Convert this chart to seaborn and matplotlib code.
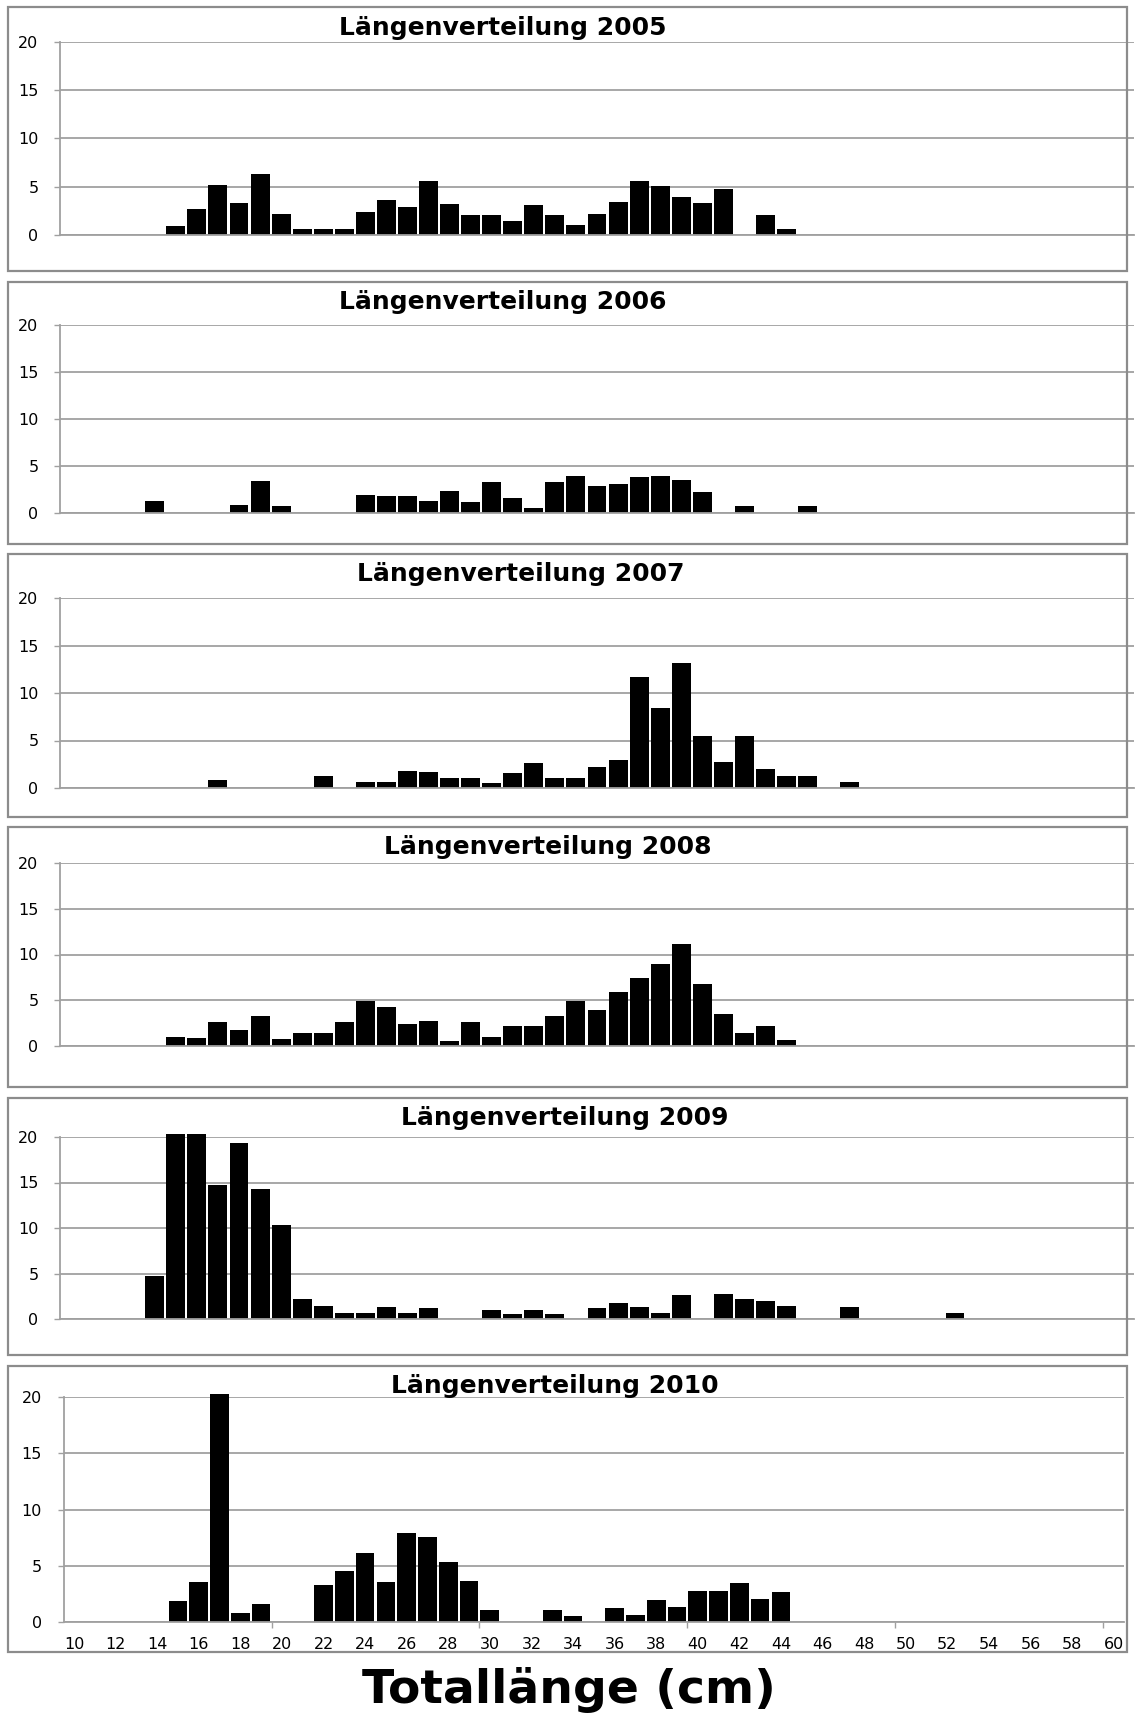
import matplotlib
matplotlib.use("Agg")
import matplotlib.pyplot as plt
import seaborn as sns
import pandas as pd
from matplotlib.patches import Rectangle

# === Daten: Anteil je Längenklasse (cm) ===
lengths = list(range(10, 61))
years = [2005, 2006, 2007, 2008, 2009, 2010]

counts_2005 = [0, 0, 0, 0, 0,
               0.96, 2.72, 5.2, 3.34, 6.33, 2.2, 0.65, 0.65, 0.65, 2.41,
               3.65, 2.93, 5.61, 3.24, 2.1, 2.1, 1.48, 3.13, 2.1, 1.07,
               2.2, 3.44, 5.61, 5.09, 3.96, 3.34, 4.78, 0, 2.1, 0.65,
               0, 0, 0, 0, 0, 0, 0, 0, 0, 0, 0, 0, 0, 0, 0, 0]
counts_2006 = [0, 0, 0, 0,
               1.24, 0, 0, 0, 0.82, 3.37, 0.71, 0, 0, 0, 1.88,
               1.78, 1.78, 1.24, 2.31, 1.14, 3.27, 1.56, 0.5, 3.27, 3.91,
               2.84, 3.05, 3.8, 3.91, 3.48, 2.2, 0, 0.71, 0, 0, 0.71,
               0, 0, 0, 0, 0, 0, 0, 0, 0, 0, 0, 0, 0, 0, 0]
counts_2007 = [0, 0, 0, 0, 0, 0, 0,
               0.88, 0, 0, 0, 0, 1.3, 0, 0.67, 0.67, 1.82, 1.72, 1.09,
               1.09, 0.56, 1.61, 2.67, 1.09, 1.09, 2.25, 2.98, 11.72, 8.46,
               13.19, 5.51, 2.77, 5.51, 2.04, 1.3, 1.3, 0, 0.67,
               0, 0, 0, 0, 0, 0, 0, 0, 0, 0, 0, 0, 0]
counts_2008 = [0, 0, 0, 0, 0,
               0.95, 0.84, 2.59, 1.71, 3.24, 0.73, 1.38, 1.38, 2.59, 4.88,
               4.23, 2.37, 2.7, 0.51, 2.59, 0.95, 2.15, 2.15, 3.24, 4.88,
               3.9, 5.87, 7.4, 8.93, 11.11, 6.74, 3.46, 1.38, 2.15, 0.62,
               0, 0, 0, 0, 0, 0, 0, 0, 0, 0, 0, 0, 0, 0, 0, 0]
counts_2009 = [0, 0, 0, 0,
               4.73, 20.3, 20.3, 14.75, 19.38, 14.31, 10.35, 2.2, 1.43, 0.66,
               0.66, 1.32, 0.66, 1.21, 0, 0, 0.99, 0.55, 0.99, 0.55, 0,
               1.21, 1.76, 1.32, 0.66, 2.64, 0, 2.75, 2.2, 1.98, 1.43,
               0, 0, 1.32, 0, 0, 0, 0, 0.66,
               0, 0, 0, 0, 0, 0, 0, 0]
counts_2010 = [0, 0, 0, 0, 0,
               1.84, 3.54, 20.3, 0.77, 1.58, 0, 0, 3.27, 4.52, 6.12,
               3.54, 7.9, 7.55, 5.32, 3.63, 1.04, 0, 0, 1.04, 0.51,
               0, 1.22, 0.59, 1.93, 1.31, 2.73, 2.73, 3.45, 2.02, 2.64,
               0, 0, 0, 0, 0, 0, 0, 0, 0, 0, 0, 0, 0, 0, 0, 0]
all_counts = [counts_2005, counts_2006, counts_2007,
              counts_2008, counts_2009, counts_2010]

# === Layout (Pixel) ===
W, H = 1139, 1713
# frame_top, frame_bottom, y20, y0, title_x, title_y
panels = [
    (7, 271, 41.7, 235, 503, 28),
    (282, 544, 325, 513, 503, 302),
    (554, 817, 598, 788, 521, 574),
    (827, 1087, 863, 1046, 548, 847),
    (1098, 1355, 1137, 1319, 565, 1118),
    (1366, 1652, 1397, 1622, 555, 1386),
]
GRID = "#a0a0a0"
FRAME = "#8c8c8c"

sns.set_theme(style="white")
plt.rcParams['font.family'] = ['DejaVu Sans']
plt.rcParams['text.color'] = 'black'
plt.rcParams['xtick.color'] = 'black'
plt.rcParams['ytick.color'] = 'black'

fig = plt.figure(figsize=(W / 100, H / 100), dpi=100)


def fx(px):
    return px / W


def fy(py):
    return 1 - py / H


for i, (year, counts) in enumerate(zip(years, all_counts)):
    ft, fb, y20, y0, tx, ty = panels[i]
    last = i == len(years) - 1
    left, right = (63.6, 1124) if last else (60, 1134)

    fig.add_artist(Rectangle((fx(8), fy(fb)), fx(1127 - 8), (fb - ft) / H,
                             transform=fig.transFigure, fill=False,
                             ec=FRAME, lw=1.6))

    ax = fig.add_axes([fx(left), fy(y0), fx(right - left), (y0 - y20) / H])
    ax.set_facecolor("none")
    df = pd.DataFrame({"Länge": lengths, "Anteil": counts})
    sns.barplot(data=df, x="Länge", y="Anteil", order=lengths, color="black",
                saturation=1, width=0.9, linewidth=0, ax=ax)
    for p in ax.patches:
        p.set_clip_on(False)

    ax.set_xlim(-0.5, len(lengths) - 0.5)
    ax.set_ylim(0, 20)
    ax.set_yticks([0, 5, 10, 15, 20])
    ax.yaxis.grid(True, color=GRID, lw=1.3)
    ax.set_axisbelow(True)
    ax.set_xlabel("")
    ax.set_ylabel("")
    for s in ["top", "right"]:
        ax.spines[s].set_visible(False)
    for s in ["left", "bottom"]:
        ax.spines[s].set_color(GRID)
        ax.spines[s].set_linewidth(1.3)
    ax.tick_params(axis="y", left=True, length=4.5, width=1, color=GRID,
                   labelsize=11.5, pad=11, labelcolor="black")

    if last:
        ax.set_xticks(range(0, len(lengths), 2))
        ax.set_xticklabels([str(l) for l in lengths[::2]])
        ax.set_xticks([9.5, 19.5, 29.5, 39.5, 49.5], minor=True)
        ax.tick_params(axis="x", which="major", length=0, labelsize=11.5,
                       pad=11, labelcolor="black")
        ax.tick_params(axis="x", which="minor", bottom=True, length=4,
                       width=1, color=GRID)
    else:
        ax.tick_params(axis="x", length=0, labelbottom=False)

    fig.text(fx(tx), fy(ty), f"Längenverteilung {year}", ha="center",
             va="center", fontsize=18, fontweight="bold", color="black")

fig.text(fx(569), fy(1703), "Totallänge (cm)", ha="center", va="baseline",
         fontsize=34, fontweight="bold", color="black")

fig.savefig("out.png", dpi=100)
